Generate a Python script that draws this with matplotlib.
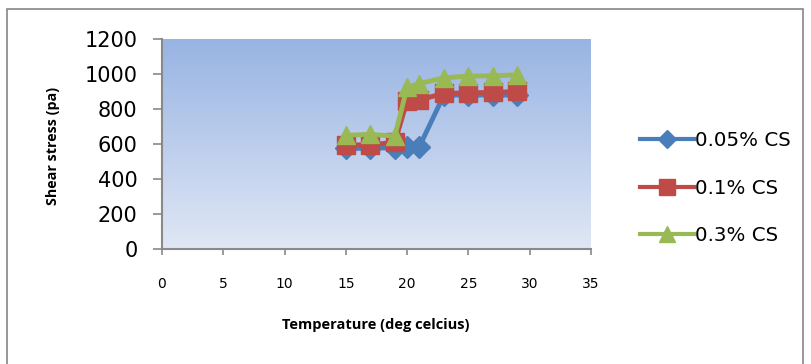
import matplotlib
import matplotlib.pyplot as plt
import numpy as np
from matplotlib.patches import Rectangle

matplotlib.use("Agg")

# data
temp = [15, 17, 19, 20, 21, 23, 25, 27, 29]
cs_005 = [575, 575, 580, 585, 585, 880, 880, 880, 880]
cs_01 = [595, 595, 610, 848, 851, 890, 892, 895, 900]
cs_03 = [650, 655, 645, 925, 945, 978, 988, 990, 995]

series = [
    ("0.05% CS", cs_005, "#4A7EBB", "D"),
    ("0.1% CS", cs_01, "#BE4B48", "s"),
    ("0.3% CS", cs_03, "#98B954", "^"),
]

W, H = 812, 364
fig = plt.figure(figsize=(W / 100, H / 100), dpi=100)

# outer chart border
fig.patches.append(Rectangle((7 / W, -0.01), (803 - 7) / W, 1 - 9 / H + 0.01,
                             transform=fig.transFigure, fill=False,
                             edgecolor="#868686", linewidth=1.2))

ax = fig.add_axes([162 / W, (H - 249) / H, (591 - 162) / W, (249 - 39) / H])

# blue gradient background
grad = np.linspace(0, 1, 256).reshape(-1, 1)
cmap = matplotlib.colors.LinearSegmentedColormap.from_list("bg", ["#98B4E3", "#E0E7F5"])
ax.imshow(grad, extent=[0, 35, 0, 1200], aspect="auto", cmap=cmap, zorder=0, origin="upper")

for label, vals, color, marker in series:
    ax.plot(temp, vals, color=color, linewidth=3.5, marker=marker,
            markersize=13 if marker != "D" else 11, label=label, zorder=3)

ax.set_xlim(0, 35)
ax.set_ylim(0, 1200)
ax.set_xticks(range(0, 36, 5))
ax.set_yticks(range(0, 1201, 200))

for side in ["top", "right"]:
    ax.spines[side].set_visible(False)
for side in ["left", "bottom"]:
    ax.spines[side].set_color("#898989")
    ax.spines[side].set_linewidth(1.5)

ax.tick_params(axis="y", direction="out", length=6.5, width=1.2, color="#898989",
               labelsize=15, pad=11)
ax.tick_params(axis="x", direction="out", length=4, width=1.2, color="#898989",
               labelsize=10, pad=16)
for lbl in ax.get_xticklabels() + ax.get_yticklabels():
    lbl.set_family("DejaVu Sans")

fig.text(53 / W, 1 - 146 / H, "Shear stress (pa)", rotation=90, ha="center", va="center",
         fontsize=10.3, fontweight="bold", family="Open Sans")
fig.text(376 / W, 1 - 325 / H, "Temperature (deg celcius)", ha="center", va="center",
         fontsize=10.5, fontweight="bold", family="Open Sans")

leg = fig.legend(loc="center left", bbox_to_anchor=(622 / W, 1 - 188 / H), frameon=False,
                 prop={"family": "DejaVu Sans", "size": 14.3}, handlelength=2.75,
                 handletextpad=0.05, labelspacing=1.45, markerscale=0.85)
for line in leg.get_lines():
    line.set_linewidth(3)

fig.savefig("out.png", dpi=100, facecolor="white")
